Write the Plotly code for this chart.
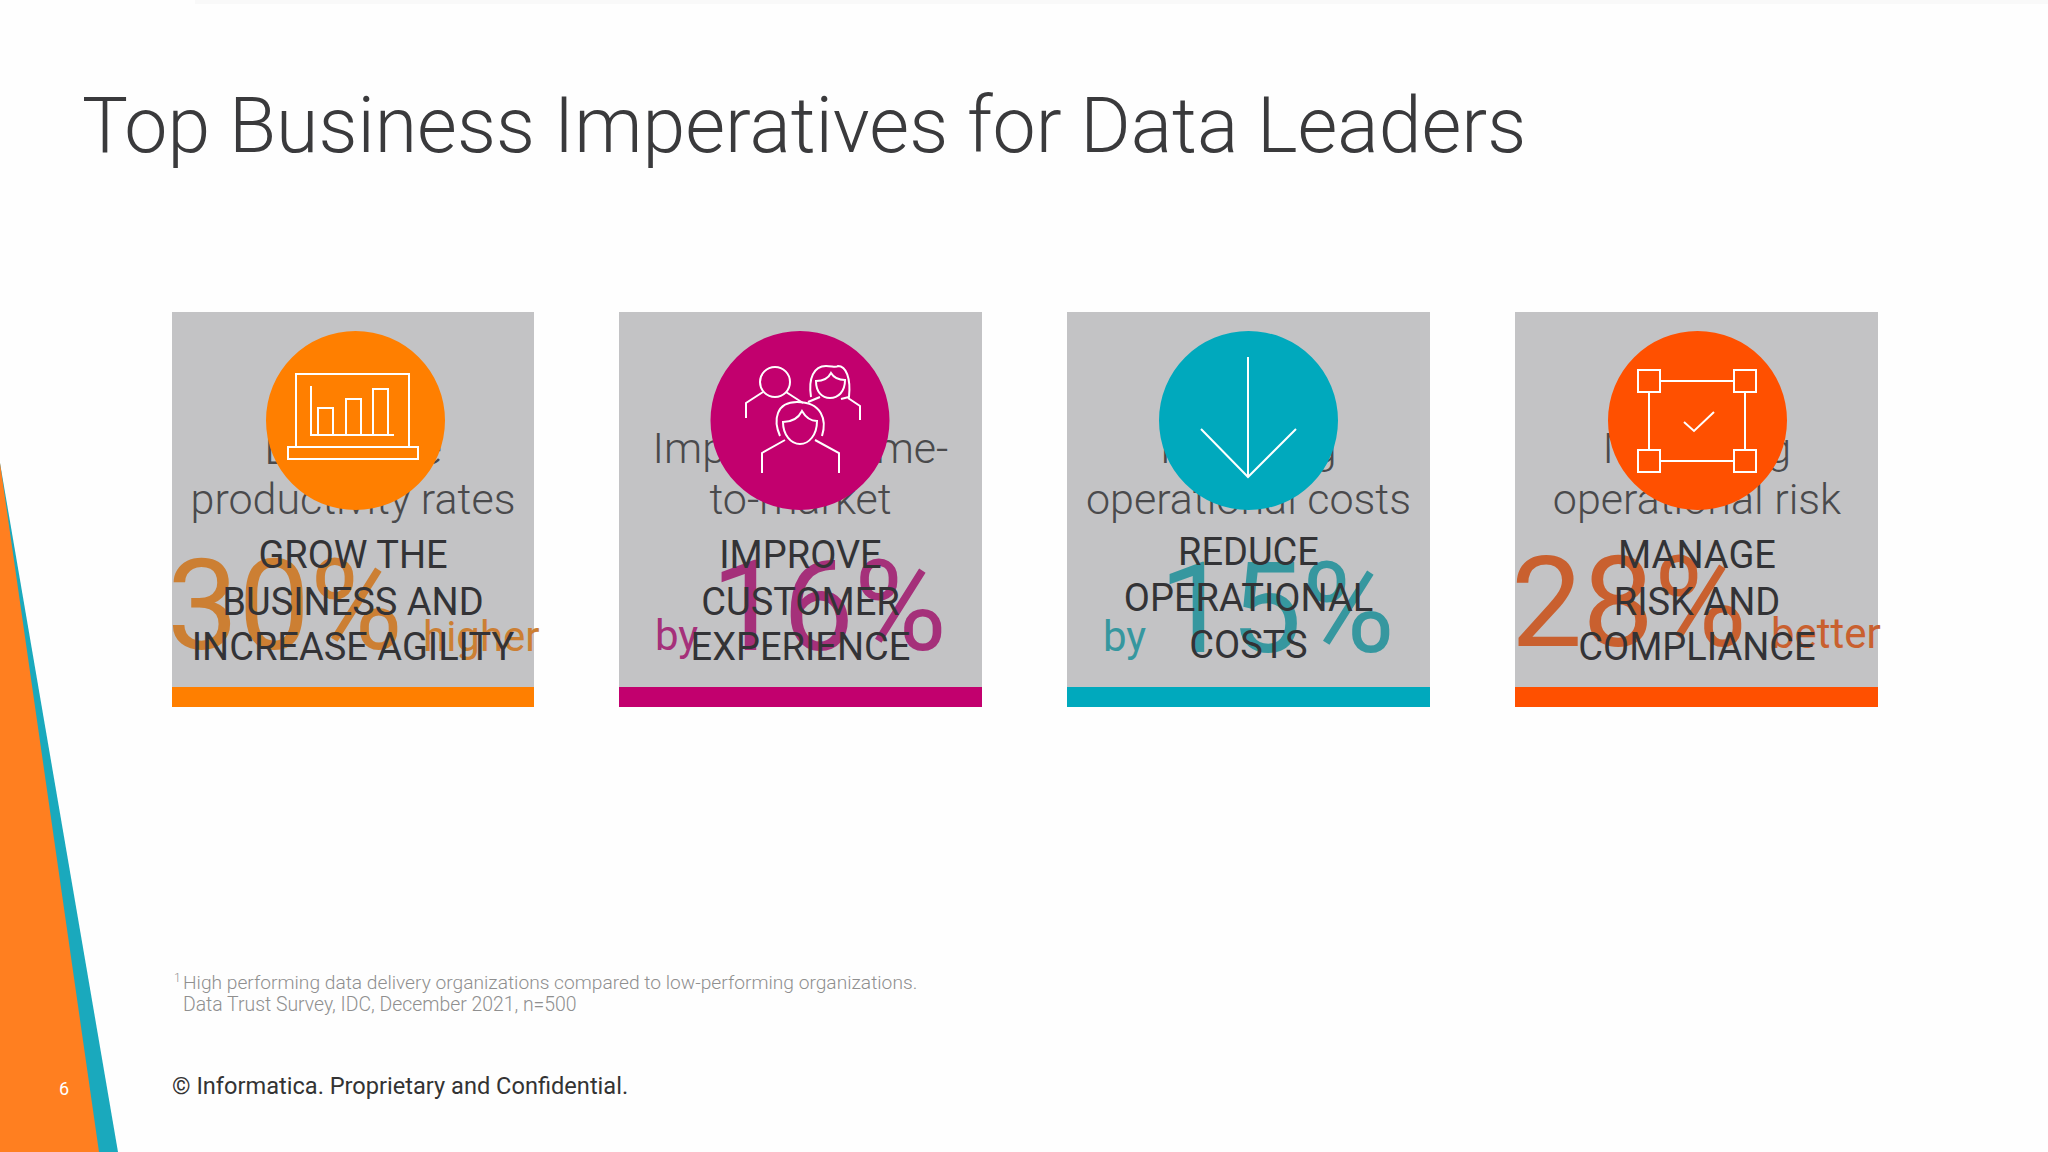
import plotly.graph_objects as go

# slide texts
title = "Top Business Imperatives for Data Leaders"
headings = [
    ["GROW THE", "BUSINESS AND", "INCREASE AGILITY"],
    ["IMPROVE", "CUSTOMER", "EXPERIENCE"],
    ["REDUCE", "OPERATIONAL", "COSTS"],
    ["MANAGE", "RISK AND", "COMPLIANCE"],
]
teasers = [
    ["Enhance", "productivity rates"],
    ["Improving time-", "to-market"],
    ["Reducing", "operational costs"],
    ["Managing", "operational risk"],
]
percents = ["30%", "16%", "15%", "28%"]
qualifiers = ["higher", "by", "by", "better"]
footnote = [
    "High performing data delivery organizations compared to low-performing organizations.",
    "Data Trust Survey, IDC, December 2021, n=500",
]
copyright_text = "© Informatica. Proprietary and Confidential."
page_number = "6"

# layout, in page pixels
card_left = [172, 619, 1067, 1515]
card_right = [534, 982, 1430, 1878]
circle_cx = [355.5, 800, 1248.5, 1697.5]
text_cx = [353, 800.5, 1248.5, 1697]
heading_y = [
    [558, 605, 650],
    [558, 605, 650],
    [555, 601, 648],
    [558, 605, 650],
]
teaser_top_size = [47, 43, 43, 43]
percent_x = [167, 711, 1159, 1511]
percent_y = [617, 618, 620, 614]
qualifier_x = [423, 655, 1103, 1771]
qualifier_y = [640, 639, 640, 637]
bar_colors = ["#FF7F00", "#C2006E", "#00A9BD", "#FF5000"]
percent_colors = ["#CC7F33", "#A5307A", "#36979F", "#C9602F"]

fig = go.Figure()
shapes = []


def rect(x0, y0, x1, y1, fill, layer="below"):
    shapes.append(dict(type="rect", xref="x", yref="y", x0=x0, y0=y0, x1=x1, y1=y1,
                       fillcolor=fill, line_width=0, layer=layer))


def icon_path(path):
    shapes.append(dict(type="path", xref="x", yref="y", path=path, layer="above",
                       line=dict(color="white", width=2), fillcolor="rgba(0,0,0,0)"))


def icon_circle(cx, cy, r):
    shapes.append(dict(type="circle", xref="x", yref="y", x0=cx - r, y0=cy - r, x1=cx + r, y1=cy + r,
                       layer="above", line=dict(color="white", width=2), fillcolor="rgba(0,0,0,0)"))


def add_text(x, y, text, size, color, weight=400, pos="middle center"):
    fig.add_trace(go.Scatter(x=[x], y=[y], text=[text], mode="text", textposition=pos,
                             textfont=dict(family="Roboto", size=size, color=color, weight=weight),
                             hoverinfo="skip", showlegend=False))


# side wedge
shapes.append(dict(type="path", xref="x", yref="y", path="M0,463 L118,1152 L0,1152 Z",
                   fillcolor="#1AA9BD", line_width=0, layer="below"))
shapes.append(dict(type="path", xref="x", yref="y", path="M0,463 L99,1152 L0,1152 Z",
                   fillcolor="#FF7F20", line_width=0, layer="below"))

# cards
for i in range(4):
    rect(card_left[i], 312, card_right[i], 688, "#C3C3C5")
    rect(card_left[i], 687, card_right[i], 707, bar_colors[i])
    add_text(text_cx[i], 452, teasers[i][0], teaser_top_size[i], "#4A4A4C", 300)
    add_text(text_cx[i], 503, teasers[i][1], 43, "#4A4A4C", 300)
    add_text(percent_x[i], percent_y[i], percents[i], 127, percent_colors[i], 400, "middle right")
    add_text(qualifier_x[i], qualifier_y[i], qualifiers[i], 42, percent_colors[i], 400, "middle right")
    for line, y in zip(headings[i], heading_y[i]):
        add_text(text_cx[i], y, line, 38, "#333336")
    shapes.append(dict(type="circle", xref="x", yref="y", x0=circle_cx[i] - 89.5, y0=331,
                       x1=circle_cx[i] + 89.5, y1=510, fillcolor=bar_colors[i], line_width=0, layer="above"))

# chart icon
icon_path("M296,447 L296,374 L409,374 L409,447")
icon_path("M288,447 L418,447 L418,459 L288,459 Z")
icon_path("M311,386 L311,435 L394,435")
icon_path("M318,435 L318,408 L333,408 L333,435")
icon_path("M346,435 L346,399 L361,399 L361,435")
icon_path("M373,435 L373,389 L388,389 L388,435")

# people icon
icon_circle(775, 382, 15)
icon_path("M746,418 L746,403 L763,392")
icon_path("M786,392 L803,403")
icon_path("M811,397 C808,378 814,366 826,366 C832,366 836,368 838,366 C846,366 851,378 849,397 L841,399")
icon_path("M816,381 C825,381 829,377 831,373 C834,378 840,380 845,380 C845,392 838,398 830,398 C822,398 816,392 816,381 Z")
icon_path("M848,398 L860,406 L860,420")
icon_path("M820,397 L808,402")
icon_path("M780,436 C773,420 776,402 797,402 C822,402 827,420 822,436")
icon_path("M783,422 C793,422 799,417 802,411 C806,418 812,421 817,421 C817,435 809,444 800,444 C791,444 783,435 783,422 Z")
icon_path("M785,440 L762,453 L762,473")
icon_path("M815,440 L839,453 L839,473")

# arrow icon
icon_path("M1248,357 L1248,477")
icon_path("M1201,429 L1248,477 L1296,429")

# checked box icon
for x0 in (1638, 1734):
    for y0 in (370, 450):
        icon_path(f"M{x0},{y0} L{x0 + 22},{y0} L{x0 + 22},{y0 + 22} L{x0},{y0 + 22} Z")
icon_path("M1660,381 L1734,381")
icon_path("M1660,461 L1734,461")
icon_path("M1649,392 L1649,450")
icon_path("M1745,392 L1745,450")
icon_path("M1684,422 L1694,431 L1714,412")

# faint line along the top edge
rect(195, 0, 2048, 4, "#F9F9F9")

annotations = []


def note(x, y, text, size, color, weight=400):
    annotations.append(dict(x=x, y=y, xref="x", yref="y", text=text, showarrow=False, xanchor="left",
                            yanchor="middle", font=dict(family="Roboto", size=size, color=color, weight=weight)))


note(80, 126, title, 77, "#3A3A3C", 300)
note(172, 978, "1", 12, "#8F8F8F", 300)
note(181, 982, footnote[0], 19.2, "#8F8F8F", 300)
note(181, 1004, footnote[1], 19.4, "#8F8F8F", 300)
note(170, 1086, copyright_text, 23.6, "#333333")
note(57, 1088, page_number, 18, "white")

fig.update_layout(
    width=2048, height=1152, margin=dict(l=0, r=0, t=0, b=0),
    paper_bgcolor="#FEFEFE", plot_bgcolor="#FEFEFE", showlegend=False,
    xaxis=dict(range=[0, 2048], visible=False, fixedrange=True),
    yaxis=dict(range=[1152, 0], visible=False, fixedrange=True),
    shapes=shapes, annotations=annotations,
)
fig.write_html("out.html", config=dict(displayModeBar=False),
               post_script="document.body.style.margin='0';")
